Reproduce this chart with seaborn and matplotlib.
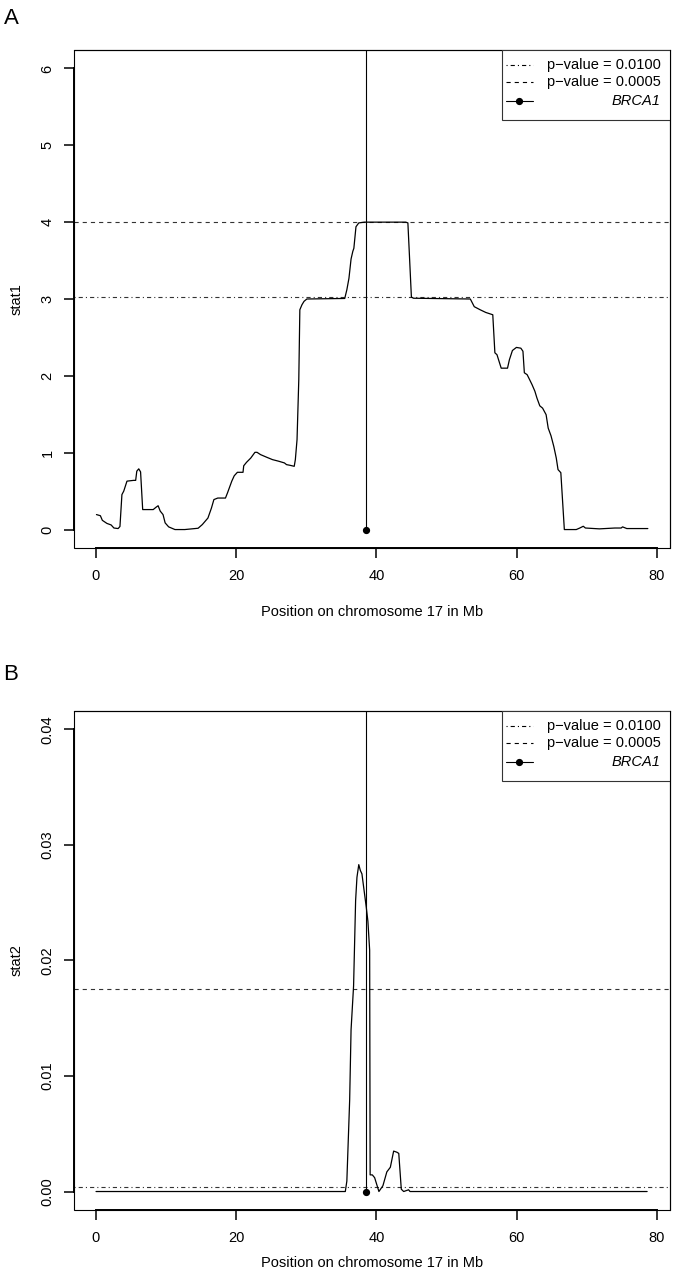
import numpy as np
import pandas as pd
import matplotlib
matplotlib.use("Agg")
import matplotlib.pyplot as plt
import seaborn as sns
from matplotlib.patches import Rectangle

# ---------------- data ----------------
pos_a = [0.11, 0.67, 0.95, 1.6, 2.2, 2.6, 3.2, 3.46, 3.74, 4.0, 4.46, 5.4, 5.7, 5.86, 6.14, 6.4,
         6.7, 8.2, 8.6, 8.9, 9.2, 9.6, 9.9, 10.4, 11.3, 12.7, 14.6, 15.2, 16.0, 16.5, 16.85, 17.4,
         18.5, 18.8, 19.4, 19.75, 20.2, 21.0, 21.1, 21.5, 22.1, 22.7, 23.0, 23.5, 24.4, 25.2, 26.05,
         26.9, 27.2, 27.7, 28.3, 28.46, 28.7, 28.95, 29.1, 29.4, 29.7, 30.1, 35.5, 35.8, 36.1, 36.4,
         36.65, 36.8, 37.1, 37.5, 38.3, 44.2, 44.5, 44.75, 45.0, 45.3, 53.4, 53.96, 54.8, 55.6, 56.6,
         56.9, 57.2, 57.8, 58.7, 58.97, 59.4, 59.97, 60.6, 60.9, 61.1, 61.5, 61.8, 62.2, 62.6, 62.9,
         63.3, 63.7, 64.2, 64.5, 64.9, 65.3, 65.65, 65.9, 66.3, 66.8, 68.5, 69.0, 69.5, 69.8, 71.8,
         74.0, 74.9, 75.1, 75.7, 77.4, 78.7]
stat1 = [0.195, 0.18, 0.12, 0.08, 0.06, 0.02, 0.013, 0.04, 0.455, 0.5, 0.63, 0.64, 0.64, 0.76, 0.79, 0.75,
         0.26, 0.26, 0.29, 0.31, 0.24, 0.195, 0.087, 0.035, 0.0, 0.0, 0.017, 0.065, 0.15, 0.28, 0.39, 0.41,
         0.41, 0.48, 0.63, 0.70, 0.745, 0.745, 0.83, 0.875, 0.93, 1.005, 1.005, 0.975, 0.94, 0.91, 0.89,
         0.867, 0.845, 0.836, 0.823, 0.91, 1.17, 1.95, 2.86, 2.925, 2.97, 3.0, 3.007, 3.12, 3.27, 3.52,
         3.62, 3.66, 3.94, 3.99, 4.0, 4.0, 3.99, 3.51, 3.025, 3.01, 3.0, 2.9, 2.86, 2.825, 2.795,
         2.30, 2.275, 2.10, 2.10, 2.21, 2.33, 2.37, 2.36, 2.32, 2.04, 2.015, 1.96, 1.885, 1.80, 1.71,
         1.61, 1.58, 1.495, 1.32, 1.22, 1.08, 0.93, 0.78, 0.74, 0.0, 0.0, 0.02, 0.043, 0.02, 0.009,
         0.02, 0.02, 0.035, 0.013, 0.013, 0.013]

pos_b = [0.05, 35.58, 35.8, 36.2, 36.4, 36.76, 37.05, 37.24, 37.5, 37.72, 37.95, 38.57, 38.8, 39.05,
         39.12, 39.43, 39.76, 40.37, 40.94, 41.5, 42.0, 42.47, 42.94, 43.2, 43.56, 43.9, 44.6, 44.8, 78.6]
stat2 = [0.0, 0.0, 0.0009, 0.0079, 0.0140, 0.0178, 0.0252, 0.0272, 0.0283, 0.0278, 0.0275, 0.0246, 0.0234,
         0.0209, 0.00144, 0.00144, 0.0012, 0.0, 0.0005, 0.0017, 0.0021, 0.0035, 0.0034, 0.0033, 0.0002,
         0.0, 0.00015, 0.0, 0.0]

brca1_pos = 38.5
thr_a = [3.02, 4.0]        # p-value 0.0100, 0.0005
thr_b = [0.00043, 0.0175]
legend_labels = ["p\u2212value = 0.0100", "p\u2212value = 0.0005", "BRCA1"]
xticks = [0, 20, 40, 60, 80]
yticks_a = [0, 1, 2, 3, 4, 5, 6]
yticklabels_a = ["0", "1", "2", "3", "4", "5", "6"]
yticks_b = [0.00, 0.01, 0.02, 0.03, 0.04]
yticklabels_b = ["0.00", "0.01", "0.02", "0.03", "0.04"]
xlabel = "Position on chromosome 17 in Mb"

# ---------------- style ----------------
sns.set_theme(style="white")
plt.rcParams['font.family'] = ['Liberation Sans', 'DejaVu Sans']
plt.rcParams['lines.scale_dashes'] = False
for k in ['text.color', 'axes.labelcolor', 'xtick.color', 'ytick.color', 'axes.edgecolor']:
    plt.rcParams[k] = 'black'
FS = 10.5

W, H = 673, 1280
fig = plt.figure(figsize=(W / 100, H / 100), dpi=100)
fig.patch.set_facecolor('white')

DASHDOT = (0.8, 2.2, 3.0, 2.2)
DASHED = (3.0, 2.9)


def panel(rect, x, y, thr, ylim, yticks, yticklabels, ylabel, xlabel_y):
    ax = fig.add_axes(rect)
    ax.set_facecolor('white')
    df = pd.DataFrame({"pos": x, "val": y})
    sns.lineplot(data=df, x="pos", y="val", ax=ax, color='black', linewidth=0.9,
                 estimator=None, sort=False, zorder=3)
    ax.axhline(thr[0], color='#333333', lw=0.8, dashes=DASHDOT, zorder=2)
    ax.axhline(thr[1], color='#333333', lw=0.8, dashes=DASHED, zorder=2)
    ax.plot([brca1_pos, brca1_pos], [0, ylim[1] * 3], color='black', lw=0.8,
            marker='o', markevery=[0], ms=4.2, zorder=4)
    ax.set_xlim(-3.09, 81.86)
    ax.set_ylim(*ylim)
    ax.set_xticks(xticks)
    ax.set_xticklabels([str(t) for t in xticks])
    ax.set_yticks(yticks)
    ax.set_yticklabels(yticklabels, rotation=90, va='center')
    ax.tick_params(axis='both', direction='out', length=7, width=1.1, labelsize=FS,
                   bottom=True, left=True, colors='black', labelcolor='black')
    ax.tick_params(axis='x', pad=8)
    ax.tick_params(axis='y', pad=7)
    for s in ['top', 'right']:
        ax.spines[s].set_linewidth(0.8)
        ax.spines[s].set_color('black')
    ax.spines['left'].set_bounds(yticks[0], yticks[-1])
    ax.spines['bottom'].set_bounds(xticks[0], xticks[-1])
    for s in ['left', 'bottom']:
        ax.spines[s].set_linewidth(1.4)
        ax.spines[s].set_color('black')
    ax.add_patch(Rectangle((0, 0), 1, 1, transform=ax.transAxes, fill=False,
                           lw=0.8, ec='black', clip_on=False, zorder=6))
    ax.set_xlabel(xlabel, fontsize=FS, va='center', color='black')
    ax.xaxis.set_label_coords(0.5, xlabel_y)
    ax.set_ylabel(ylabel, fontsize=FS, va='center', color='black')
    ax.yaxis.set_label_coords(-0.0956, 0.5)
    ax.grid(False)

    # legend (R style, text right aligned)
    lx0, ly0 = 0.7186, 0.8594
    ax.add_patch(Rectangle((lx0, ly0), 1 - lx0, 1 - ly0, transform=ax.transAxes,
                           facecolor='white', ec='#333333', lw=0.8, zorder=7))
    rows = [0.9705, 0.9350, 0.8984]
    styles = [dict(dashes=DASHDOT), dict(dashes=DASHED), dict(marker='o', markevery=[1], ms=4.2)]
    for r, lab, st in zip(rows, legend_labels, styles):
        ax.plot([0.7243, 0.7472, 0.7701], [r, r, r], transform=ax.transAxes, color='black',
                lw=0.8, zorder=8, clip_on=False, **st)
        ax.text(0.9844, r, lab, transform=ax.transAxes, ha='right', va='center', fontsize=FS,
                style='italic' if lab == "BRCA1" else 'normal', zorder=9, color='black')
    return ax


axA = panel([74 / W, 1 - 548 / H, 596 / W, 498 / H], pos_a, stat1, thr_a, (-0.24, 6.24),
            yticks_a, yticklabels_a, "stat1", -0.1279)
axB = panel([74 / W, 1 - 1210 / H, 596 / W, 499 / H], pos_b, stat2, thr_b, (-0.0016, 0.0416),
            yticks_b, yticklabels_b, "stat2", -0.1062)

fig.text(11 / W, 1 - 18 / H, "A", ha='center', va='center', fontsize=16, color='black')
fig.text(11 / W, 1 - 675 / H, "B", ha='center', va='center', fontsize=16, color='black')

fig.savefig("out.png", dpi=100, facecolor='white')
